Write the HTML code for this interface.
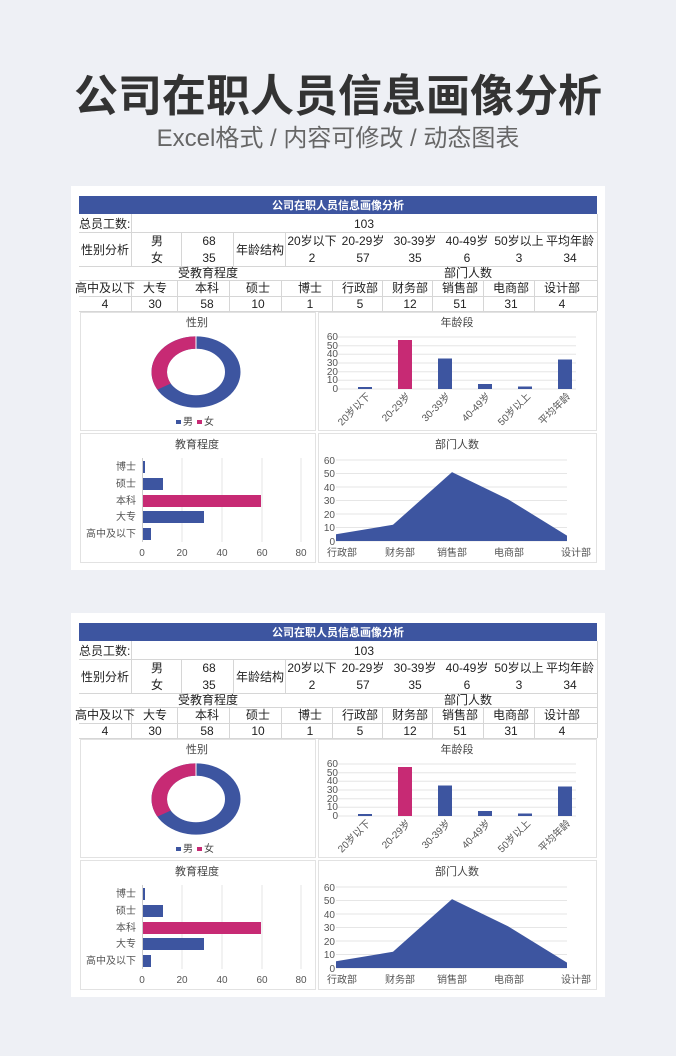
<!DOCTYPE html>
<html><head><meta charset="utf-8"><style>
html,body{margin:0;padding:0;background:#eef0f5;}
svg{display:block;font-family:"Liberation Sans","Noto Sans CJK SC",sans-serif;}
</style></head><body>
<svg width="676" height="1056" viewBox="0 0 676 1056" xmlns="http://www.w3.org/2000/svg">
<rect width="676" height="1056" fill="#eef0f5"/>
<text x="338" y="111" text-anchor="middle" font-size="44" font-weight="bold" fill="#333">公司在职人员信息画像分析</text>
<text x="338" y="146" text-anchor="middle" font-size="24" fill="#666">Excel格式 / 内容可修改 / 动态图表</text>

<g>
<rect x="71" y="186" width="534" height="384" fill="#fff"/>
<rect x="79" y="196" width="518" height="18" fill="#3d55a0"/>
<text x="338" y="209" text-anchor="middle" font-size="11" font-weight="bold" fill="#fff">公司在职人员信息画像分析</text>
<g stroke="#d6d6d6" stroke-width="1" fill="none">
<line x1="79" y1="232.5" x2="597" y2="232.5"/>
<line x1="79" y1="266.5" x2="597" y2="266.5"/>
<line x1="79" y1="280.5" x2="597" y2="280.5"/>
<line x1="79" y1="296.5" x2="597" y2="296.5"/>
<line x1="79" y1="311.5" x2="597" y2="311.5"/>
<line x1="131.5" y1="214" x2="131.5" y2="232"/>
<line x1="131.5" y1="233" x2="131.5" y2="266"/>
<line x1="181.5" y1="233" x2="181.5" y2="266"/>
<line x1="233.5" y1="233" x2="233.5" y2="266"/>
<line x1="285.5" y1="233" x2="285.5" y2="266"/>
<line x1="131.5" y1="280" x2="131.5" y2="311"/>
<line x1="177.5" y1="280" x2="177.5" y2="311"/>
<line x1="229.5" y1="280" x2="229.5" y2="311"/>
<line x1="281.5" y1="280" x2="281.5" y2="311"/>
<line x1="332.5" y1="280" x2="332.5" y2="311"/>
<line x1="382.5" y1="280" x2="382.5" y2="311"/>
<line x1="432.5" y1="280" x2="432.5" y2="311"/>
<line x1="483.5" y1="280" x2="483.5" y2="311"/>
<line x1="534.5" y1="280" x2="534.5" y2="311"/>
<line x1="597.5" y1="214" x2="597.5" y2="311"/>
</g>
<g font-size="12" fill="#222" text-anchor="middle">
<text x="79" y="228" text-anchor="start">总员工数:</text>
<text x="364" y="228">103</text>
<text x="105" y="254">性别分析</text>
<text x="157" y="245">男</text><text x="157" y="262">女</text>
<text x="209" y="245">68</text><text x="209" y="262">35</text>
<text x="260" y="254">年龄结构</text>
<text x="312" y="245">20岁以下</text><text x="312" y="262">2</text>
<text x="363" y="245">20-29岁</text><text x="363" y="262">57</text>
<text x="415" y="245">30-39岁</text><text x="415" y="262">35</text>
<text x="467" y="245">40-49岁</text><text x="467" y="262">6</text>
<text x="519" y="245">50岁以上</text><text x="519" y="262">3</text>
<text x="570" y="245">平均年龄</text><text x="570" y="262">34</text>
<text x="208" y="277">受教育程度</text>
<text x="468" y="277">部门人数</text>
<text x="105" y="292">高中及以下</text><text x="105" y="308">4</text>
<text x="155" y="292">大专</text><text x="155" y="308">30</text>
<text x="207" y="292">本科</text><text x="207" y="308">58</text>
<text x="258" y="292">硕士</text><text x="258" y="308">10</text>
<text x="310" y="292">博士</text><text x="310" y="308">1</text>
<text x="360" y="292">行政部</text><text x="360" y="308">5</text>
<text x="410" y="292">财务部</text><text x="410" y="308">12</text>
<text x="460" y="292">销售部</text><text x="460" y="308">51</text>
<text x="511" y="292">电商部</text><text x="511" y="308">31</text>
<text x="562" y="292">设计部</text><text x="562" y="308">4</text>
</g>
<g fill="none" stroke="#e2e2e2">
<rect x="80.5" y="312.5" width="235" height="118"/>
<rect x="318.5" y="312.5" width="278" height="118"/>
<rect x="80.5" y="433.5" width="235" height="129"/>
<rect x="318.5" y="433.5" width="278" height="129"/>
</g>
<text x="197" y="326" text-anchor="middle" font-size="11" fill="#444">性别</text>
<g transform="translate(196,372) scale(1,0.8)">
<circle cx="0" cy="0" r="36.75" fill="none" stroke="#3d55a0" stroke-width="15.5"/>
<path d="M0 -36.75 A36.75 36.75 0 0 0 -31.9 18.2" fill="none" stroke="#c72a74" stroke-width="15.5"/>
<line x1="0" y1="-45" x2="0" y2="-28" stroke="#fff" stroke-width="1"/>
</g>
<rect x="176" y="420" width="5" height="4" fill="#3d55a0"/>
<text x="183" y="425" font-size="10" fill="#444">男</text>
<rect x="197" y="420" width="5" height="4" fill="#c72a74"/>
<text x="204" y="425" font-size="10" fill="#444">女</text>
<text x="457" y="326" text-anchor="middle" font-size="11" fill="#444">年龄段</text>
<g stroke="#e6e6e6">
<line x1="337" y1="337" x2="576" y2="337"/><line x1="337" y1="345.7" x2="576" y2="345.7"/>
<line x1="337" y1="354.3" x2="576" y2="354.3"/><line x1="337" y1="363" x2="576" y2="363"/>
<line x1="337" y1="371.7" x2="576" y2="371.7"/><line x1="337" y1="380.3" x2="576" y2="380.3"/>
<line x1="337" y1="389" x2="576" y2="389"/>
</g>
<g font-size="10" fill="#555" text-anchor="end">
<text x="338" y="340">60</text><text x="338" y="349">50</text><text x="338" y="357">40</text>
<text x="338" y="366">30</text><text x="338" y="375">20</text><text x="338" y="383">10</text><text x="338" y="392">0</text>
</g>
<rect x="358" y="387" width="14" height="2" fill="#3d55a0"/>
<rect x="398" y="340" width="14" height="49" fill="#c72a74"/>
<rect x="438" y="358.5" width="14" height="30.5" fill="#3d55a0"/>
<rect x="478" y="384" width="14" height="5" fill="#3d55a0"/>
<rect x="518" y="386.5" width="14" height="2.5" fill="#3d55a0"/>
<rect x="558" y="359.5" width="14" height="29.5" fill="#3d55a0"/>
<g font-size="10" fill="#555" text-anchor="end">
<text transform="translate(371,397) rotate(-45)">20岁以下</text>
<text transform="translate(411,397) rotate(-45)">20-29岁</text>
<text transform="translate(451,397) rotate(-45)">30-39岁</text>
<text transform="translate(491,397) rotate(-45)">40-49岁</text>
<text transform="translate(531,397) rotate(-45)">50岁以上</text>
<text transform="translate(571,397) rotate(-45)">平均年龄</text>
</g>
<text x="197" y="448" text-anchor="middle" font-size="11" fill="#444">教育程度</text>
<g stroke="#e6e6e6">
<line x1="182" y1="458" x2="182" y2="542"/><line x1="222" y1="458" x2="222" y2="542"/>
<line x1="262" y1="458" x2="262" y2="542"/><line x1="301" y1="458" x2="301" y2="542"/>
</g>
<line x1="142.5" y1="458" x2="142.5" y2="542" stroke="#ccc"/>
<rect x="143" y="461" width="2" height="12" fill="#3d55a0"/>
<rect x="143" y="478" width="20" height="12" fill="#3d55a0"/>
<rect x="143" y="495" width="118" height="12" fill="#c72a74"/>
<rect x="143" y="511" width="61" height="12" fill="#3d55a0"/>
<rect x="143" y="528" width="8" height="12" fill="#3d55a0"/>
<g font-size="10" fill="#555" text-anchor="end">
<text x="136" y="470">博士</text><text x="136" y="487">硕士</text><text x="136" y="504">本科</text>
<text x="136" y="520">大专</text><text x="136" y="537">高中及以下</text>
</g>
<g font-size="10" fill="#555" text-anchor="middle">
<text x="142" y="556">0</text><text x="182" y="556">20</text><text x="222" y="556">40</text>
<text x="262" y="556">60</text><text x="301" y="556">80</text>
</g>
<text x="457" y="448" text-anchor="middle" font-size="11" fill="#444">部门人数</text>
<g stroke="#e6e6e6">
<line x1="336" y1="460" x2="567" y2="460"/><line x1="336" y1="473.5" x2="567" y2="473.5"/>
<line x1="336" y1="487" x2="567" y2="487"/><line x1="336" y1="500.5" x2="567" y2="500.5"/>
<line x1="336" y1="514" x2="567" y2="514"/><line x1="336" y1="527.5" x2="567" y2="527.5"/>
<line x1="336" y1="541" x2="567" y2="541"/>
</g>
<polygon points="336,534.2 393,524.8 452,472.1 508,499.2 567,535.6 567,541 336,541" fill="#3d55a0"/>
<g font-size="10" fill="#555" text-anchor="end">
<text x="335" y="464">60</text><text x="335" y="477">50</text><text x="335" y="491">40</text>
<text x="335" y="504">30</text><text x="335" y="518">20</text><text x="335" y="531">10</text><text x="335" y="545">0</text>
</g>
<g font-size="10" fill="#555" text-anchor="middle">
<text x="342" y="556">行政部</text><text x="400" y="556">财务部</text><text x="452" y="556">销售部</text>
<text x="509" y="556">电商部</text><text x="576" y="556">设计部</text>
</g>
</g>

<g transform="translate(0,427)">
<rect x="71" y="186" width="534" height="384" fill="#fff"/>
<rect x="79" y="196" width="518" height="18" fill="#3d55a0"/>
<text x="338" y="209" text-anchor="middle" font-size="11" font-weight="bold" fill="#fff">公司在职人员信息画像分析</text>
<g stroke="#d6d6d6" stroke-width="1" fill="none">
<line x1="79" y1="232.5" x2="597" y2="232.5"/>
<line x1="79" y1="266.5" x2="597" y2="266.5"/>
<line x1="79" y1="280.5" x2="597" y2="280.5"/>
<line x1="79" y1="296.5" x2="597" y2="296.5"/>
<line x1="79" y1="311.5" x2="597" y2="311.5"/>
<line x1="131.5" y1="214" x2="131.5" y2="232"/>
<line x1="131.5" y1="233" x2="131.5" y2="266"/>
<line x1="181.5" y1="233" x2="181.5" y2="266"/>
<line x1="233.5" y1="233" x2="233.5" y2="266"/>
<line x1="285.5" y1="233" x2="285.5" y2="266"/>
<line x1="131.5" y1="280" x2="131.5" y2="311"/>
<line x1="177.5" y1="280" x2="177.5" y2="311"/>
<line x1="229.5" y1="280" x2="229.5" y2="311"/>
<line x1="281.5" y1="280" x2="281.5" y2="311"/>
<line x1="332.5" y1="280" x2="332.5" y2="311"/>
<line x1="382.5" y1="280" x2="382.5" y2="311"/>
<line x1="432.5" y1="280" x2="432.5" y2="311"/>
<line x1="483.5" y1="280" x2="483.5" y2="311"/>
<line x1="534.5" y1="280" x2="534.5" y2="311"/>
<line x1="597.5" y1="214" x2="597.5" y2="311"/>
</g>
<g font-size="12" fill="#222" text-anchor="middle">
<text x="79" y="228" text-anchor="start">总员工数:</text>
<text x="364" y="228">103</text>
<text x="105" y="254">性别分析</text>
<text x="157" y="245">男</text><text x="157" y="262">女</text>
<text x="209" y="245">68</text><text x="209" y="262">35</text>
<text x="260" y="254">年龄结构</text>
<text x="312" y="245">20岁以下</text><text x="312" y="262">2</text>
<text x="363" y="245">20-29岁</text><text x="363" y="262">57</text>
<text x="415" y="245">30-39岁</text><text x="415" y="262">35</text>
<text x="467" y="245">40-49岁</text><text x="467" y="262">6</text>
<text x="519" y="245">50岁以上</text><text x="519" y="262">3</text>
<text x="570" y="245">平均年龄</text><text x="570" y="262">34</text>
<text x="208" y="277">受教育程度</text>
<text x="468" y="277">部门人数</text>
<text x="105" y="292">高中及以下</text><text x="105" y="308">4</text>
<text x="155" y="292">大专</text><text x="155" y="308">30</text>
<text x="207" y="292">本科</text><text x="207" y="308">58</text>
<text x="258" y="292">硕士</text><text x="258" y="308">10</text>
<text x="310" y="292">博士</text><text x="310" y="308">1</text>
<text x="360" y="292">行政部</text><text x="360" y="308">5</text>
<text x="410" y="292">财务部</text><text x="410" y="308">12</text>
<text x="460" y="292">销售部</text><text x="460" y="308">51</text>
<text x="511" y="292">电商部</text><text x="511" y="308">31</text>
<text x="562" y="292">设计部</text><text x="562" y="308">4</text>
</g>
<g fill="none" stroke="#e2e2e2">
<rect x="80.5" y="312.5" width="235" height="118"/>
<rect x="318.5" y="312.5" width="278" height="118"/>
<rect x="80.5" y="433.5" width="235" height="129"/>
<rect x="318.5" y="433.5" width="278" height="129"/>
</g>
<text x="197" y="326" text-anchor="middle" font-size="11" fill="#444">性别</text>
<g transform="translate(196,372) scale(1,0.8)">
<circle cx="0" cy="0" r="36.75" fill="none" stroke="#3d55a0" stroke-width="15.5"/>
<path d="M0 -36.75 A36.75 36.75 0 0 0 -31.9 18.2" fill="none" stroke="#c72a74" stroke-width="15.5"/>
<line x1="0" y1="-45" x2="0" y2="-28" stroke="#fff" stroke-width="1"/>
</g>
<rect x="176" y="420" width="5" height="4" fill="#3d55a0"/>
<text x="183" y="425" font-size="10" fill="#444">男</text>
<rect x="197" y="420" width="5" height="4" fill="#c72a74"/>
<text x="204" y="425" font-size="10" fill="#444">女</text>
<text x="457" y="326" text-anchor="middle" font-size="11" fill="#444">年龄段</text>
<g stroke="#e6e6e6">
<line x1="337" y1="337" x2="576" y2="337"/><line x1="337" y1="345.7" x2="576" y2="345.7"/>
<line x1="337" y1="354.3" x2="576" y2="354.3"/><line x1="337" y1="363" x2="576" y2="363"/>
<line x1="337" y1="371.7" x2="576" y2="371.7"/><line x1="337" y1="380.3" x2="576" y2="380.3"/>
<line x1="337" y1="389" x2="576" y2="389"/>
</g>
<g font-size="10" fill="#555" text-anchor="end">
<text x="338" y="340">60</text><text x="338" y="349">50</text><text x="338" y="357">40</text>
<text x="338" y="366">30</text><text x="338" y="375">20</text><text x="338" y="383">10</text><text x="338" y="392">0</text>
</g>
<rect x="358" y="387" width="14" height="2" fill="#3d55a0"/>
<rect x="398" y="340" width="14" height="49" fill="#c72a74"/>
<rect x="438" y="358.5" width="14" height="30.5" fill="#3d55a0"/>
<rect x="478" y="384" width="14" height="5" fill="#3d55a0"/>
<rect x="518" y="386.5" width="14" height="2.5" fill="#3d55a0"/>
<rect x="558" y="359.5" width="14" height="29.5" fill="#3d55a0"/>
<g font-size="10" fill="#555" text-anchor="end">
<text transform="translate(371,397) rotate(-45)">20岁以下</text>
<text transform="translate(411,397) rotate(-45)">20-29岁</text>
<text transform="translate(451,397) rotate(-45)">30-39岁</text>
<text transform="translate(491,397) rotate(-45)">40-49岁</text>
<text transform="translate(531,397) rotate(-45)">50岁以上</text>
<text transform="translate(571,397) rotate(-45)">平均年龄</text>
</g>
<text x="197" y="448" text-anchor="middle" font-size="11" fill="#444">教育程度</text>
<g stroke="#e6e6e6">
<line x1="182" y1="458" x2="182" y2="542"/><line x1="222" y1="458" x2="222" y2="542"/>
<line x1="262" y1="458" x2="262" y2="542"/><line x1="301" y1="458" x2="301" y2="542"/>
</g>
<line x1="142.5" y1="458" x2="142.5" y2="542" stroke="#ccc"/>
<rect x="143" y="461" width="2" height="12" fill="#3d55a0"/>
<rect x="143" y="478" width="20" height="12" fill="#3d55a0"/>
<rect x="143" y="495" width="118" height="12" fill="#c72a74"/>
<rect x="143" y="511" width="61" height="12" fill="#3d55a0"/>
<rect x="143" y="528" width="8" height="12" fill="#3d55a0"/>
<g font-size="10" fill="#555" text-anchor="end">
<text x="136" y="470">博士</text><text x="136" y="487">硕士</text><text x="136" y="504">本科</text>
<text x="136" y="520">大专</text><text x="136" y="537">高中及以下</text>
</g>
<g font-size="10" fill="#555" text-anchor="middle">
<text x="142" y="556">0</text><text x="182" y="556">20</text><text x="222" y="556">40</text>
<text x="262" y="556">60</text><text x="301" y="556">80</text>
</g>
<text x="457" y="448" text-anchor="middle" font-size="11" fill="#444">部门人数</text>
<g stroke="#e6e6e6">
<line x1="336" y1="460" x2="567" y2="460"/><line x1="336" y1="473.5" x2="567" y2="473.5"/>
<line x1="336" y1="487" x2="567" y2="487"/><line x1="336" y1="500.5" x2="567" y2="500.5"/>
<line x1="336" y1="514" x2="567" y2="514"/><line x1="336" y1="527.5" x2="567" y2="527.5"/>
<line x1="336" y1="541" x2="567" y2="541"/>
</g>
<polygon points="336,534.2 393,524.8 452,472.1 508,499.2 567,535.6 567,541 336,541" fill="#3d55a0"/>
<g font-size="10" fill="#555" text-anchor="end">
<text x="335" y="464">60</text><text x="335" y="477">50</text><text x="335" y="491">40</text>
<text x="335" y="504">30</text><text x="335" y="518">20</text><text x="335" y="531">10</text><text x="335" y="545">0</text>
</g>
<g font-size="10" fill="#555" text-anchor="middle">
<text x="342" y="556">行政部</text><text x="400" y="556">财务部</text><text x="452" y="556">销售部</text>
<text x="509" y="556">电商部</text><text x="576" y="556">设计部</text>
</g>
</g>
</svg>
</body></html>
